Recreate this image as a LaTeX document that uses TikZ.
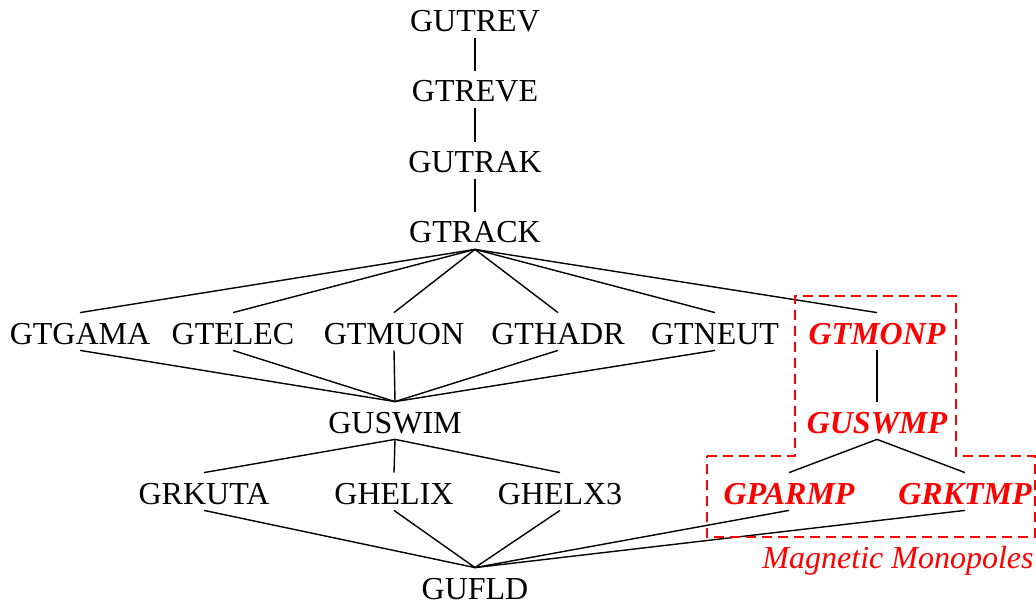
\documentclass[tikz,border=0pt]{standalone}
\usepackage{fontspec}
\setmainfont{Liberation Serif}
\begin{document}
\begin{tikzpicture}[x = 0.5pt, y = -0.5pt,
    every node/.style = {font = \fontsize{16}{19}\selectfont, anchor = base,
      inner xsep = 0pt, inner ysep = 3pt, text height = 12.5pt, text depth = 0pt},
    mono/.style = {red, font = \fontsize{16}{19}\selectfont\bfseries\itshape},
    link/.style = {line width = 0.7pt}]
  \useasboundingbox (0, 0) rectangle (1036, 603);
  % main chain
  \node (gutrev) at (475,  32) {GUTREV};
  \node (gtreve) at (475, 102) {GTREVE};
  \node (gutrak) at (475, 173) {GUTRAK};
  \node (gtrack) at (475, 243) {GTRACK};
  % particle types
  \node (gtgama) at ( 80, 344) {GTGAMA};
  \node (gtelec) at (233, 344) {GTELEC};
  \node (gtmuon) at (394, 344) {GTMUON};
  \node (gthadr) at (558, 344) {GTHADR};
  \node (gtneut) at (715, 344) {GTNEUT};
  \node[mono] (gtmonp) at (877, 344) {GTMONP};
  \node (guswim) at (395, 433) {GUSWIM};
  \node[mono] (guswmp) at (877, 433) {GUSWMP};
  % integrators
  \node (grkuta) at (204, 504) {GRKUTA};
  \node (ghelix) at (394, 504) {GHELIX};
  \node (ghelx3) at (560, 504) {GHELX3};
  \node[mono] (gparmp) at (789, 504) {GPARMP};
  \node[mono] (grktmp) at (965, 504) {GRKTMP};
  \node (gufld) at (475, 599) {GUFLD};
  \foreach \a/\b in {gutrev/gtreve, gtreve/gutrak, gutrak/gtrack,
      gtrack/gtgama, gtrack/gtelec, gtrack/gtmuon, gtrack/gthadr,
      gtrack/gtneut, gtrack/gtmonp,
      gtgama/guswim, gtelec/guswim, gtmuon/guswim, gthadr/guswim,
      gtneut/guswim, gtmonp/guswmp,
      guswim/grkuta, guswim/ghelix, guswim/ghelx3,
      guswmp/gparmp, guswmp/grktmp,
      grkuta/gufld, ghelix/gufld, ghelx3/gufld, gparmp/gufld, grktmp/gufld}
    \draw[link] (\a.south) -- (\b.north);
  % monopole group
  \draw[red, line width = 0.75pt, dash pattern = on 5pt off 3pt]
    (707, 456) -- (795, 456) -- (795, 296) -- (956, 296) -- (956, 456)
    -- (1035, 456) -- (1035, 537) -- (707, 537) -- cycle;
  \node[red, font = \fontsize{16}{19}\selectfont\itshape] (mmlabel)
    at (898, 568) {Magnetic Monopoles};
\end{tikzpicture}
\end{document}
